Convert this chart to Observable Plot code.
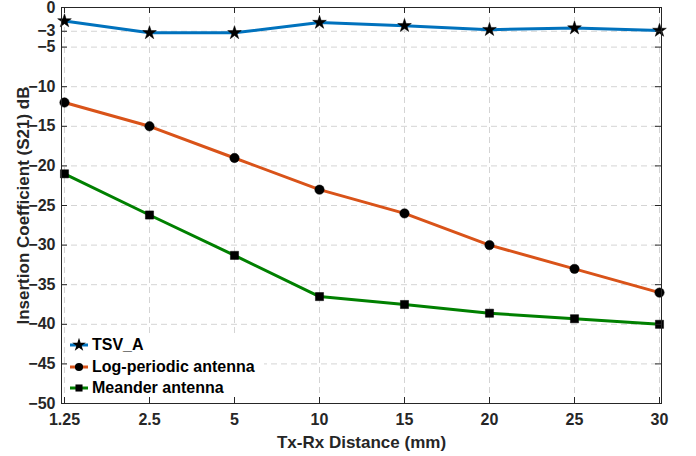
<!DOCTYPE html>
<html>
<head>
<meta charset="utf-8">
<script src="https://cdn.jsdelivr.net/npm/d3@7"></script>
<script src="https://cdn.jsdelivr.net/npm/@observablehq/plot@0.6"></script>
<style>
  html, body { margin: 0; padding: 0; background: #fff; }
  #wrap { position: relative; width: 696px; height: 456px; }
  #legend { position: absolute; left: 69px; top: 334px; width: 195px; height: 63px; background: #fff;
    font: bold 16px "Liberation Sans", Arial, sans-serif; color: #000; }
  #legend .row { position: absolute; left: 0; height: 20px; display: flex; align-items: center; }
  #legend .row span { margin-left: 3px; white-space: nowrap; }
</style>
</head>
<body>
<div id="wrap"><div id="legend"></div></div>
<script>
const distances = ["1.25", "2.5", "5", "10", "15", "20", "25", "30"];
const yTicks = [0, -3, -5, -10, -15, -20, -25, -30, -35, -40, -45, -50];
const seriesNames = ["TSV_A", "Log-periodic antenna", "Meander antenna"];
const seriesColors = ["#0072BD", "#D95319", "#008000"];
const seriesSymbols = ["star", "circle", "square"];
const seriesR = [4.3, 4.7, 4.6];
const tsvA = [-1.7, -3.2, -3.2, -1.9, -2.3, -2.8, -2.6, -2.9];
const logPeriodic = [-12, -15, -19, -23, -26, -30, -33, -36];
const meander = [-21, -26.2, -31.3, -36.5, -37.5, -38.6, -39.3, -40];

const seriesValues = [tsvA, logPeriodic, meander];
const data = seriesNames.flatMap((s, i) => distances.map((d, j) => ({series: s, d, v: seriesValues[i][j]})));

const W = 696, H = 456, mL = 61, mR = 35, mT = 7, mB = 53;
const pw = W - mL - mR, ph = H - mT - mB;

const chart = Plot.plot({
  width: W, height: H,
  marginLeft: mL, marginRight: mR, marginTop: mT, marginBottom: mB,
  style: {fontFamily: '"Liberation Sans", Arial, sans-serif', fontSize: "16px", fontWeight: "bold", background: "#fff", color: "#262626", overflow: "visible"},
  x: {type: "point", domain: distances, padding: 0},
  y: {domain: [-50, 0]},
  color: {domain: seriesNames, range: seriesColors},
  marks: [
    Plot.gridX(distances, {stroke: "#d4d4d4", strokeOpacity: 1, strokeDasharray: "6,4"}),
    Plot.gridY(yTicks, {stroke: "#d4d4d4", strokeOpacity: 1, strokeDasharray: "6,4"}),
    Plot.line(data, {x: "d", y: "v", stroke: "series", strokeWidth: 3}),
    ...seriesNames.map((s, i) => Plot.dot(data.filter(r => r.series === s), {
      x: "d", y: "v", symbol: () => seriesSymbols[i], r: seriesR[i], fill: "#000", stroke: "#000", strokeWidth: 0.5
    })),
    Plot.frame({stroke: "#262626", strokeWidth: 1}),
    Plot.tickY(yTicks, {y: d => d, insetRight: pw - 6, stroke: "#262626"}),
    Plot.tickY(yTicks, {y: d => d, insetLeft: pw - 6, stroke: "#262626"}),
    Plot.tickX(distances, {x: d => d, insetTop: ph - 6, stroke: "#262626"}),
    Plot.tickX(distances, {x: d => d, insetBottom: ph - 6, stroke: "#262626"}),
    Plot.axisY(yTicks, {tickSize: 0, tickPadding: 6, label: null, fill: "#262626", fontSize: 16, fontWeight: "bold"}),
    Plot.axisX(distances, {tickSize: 0, tickPadding: 10, label: null, fill: "#262626", fontSize: 16, fontWeight: "bold"}),
    Plot.text(["Tx-Rx Distance (mm)"], {frameAnchor: "bottom", dy: 44, lineAnchor: "bottom", fontSize: 17, fontWeight: "bold", fill: "#262626"}),
    Plot.text(["Insertion Coefficient (S21) dB"], {frameAnchor: "left", dx: -33, rotate: -90, textAnchor: "middle", lineAnchor: "bottom", fontSize: 17, fontWeight: "bold", fill: "#262626"})
  ]
});
const wrap = document.getElementById("wrap");
wrap.insertBefore(chart, wrap.firstChild);
chart.style.display = "block";

// legend
const legend = d3.select("#legend");
const symMap = {star: d3.symbolStar, circle: d3.symbolCircle, square: d3.symbolSquare};
seriesNames.forEach((s, i) => {
  const row = legend.append("div").attr("class", "row").style("top", (i * 21.5 + 1) + "px");
  const svg = row.append("svg").attr("width", 20).attr("height", 20);
  svg.append("line").attr("x1", 1).attr("x2", 19).attr("y1", 10).attr("y2", 10)
    .attr("stroke", seriesColors[i]).attr("stroke-width", 3);
  svg.append("path").attr("transform", "translate(10,10)")
    .attr("d", d3.symbol(symMap[seriesSymbols[i]], Math.PI * seriesR[i] * seriesR[i] * (i === 0 ? 1 : 0.75))())
    .attr("fill", "#000");
  row.append("span").text(s);
});
</script>
</body>
</html>
